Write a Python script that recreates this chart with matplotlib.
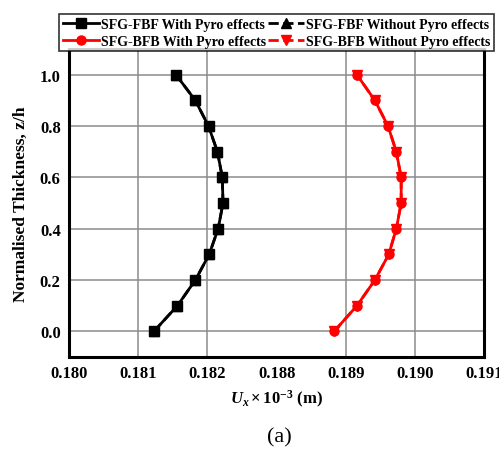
import numpy as np
import matplotlib
matplotlib.use('agg')
import matplotlib.pyplot as plt
from matplotlib.ticker import FixedLocator

z = [0.0, 0.1, 0.2, 0.3, 0.4, 0.5, 0.6, 0.7, 0.8, 0.9, 1.0]
fbf_with = [0.18123, 0.18157, 0.18183, 0.18203, 0.18216, 0.18223, 0.18222, 0.18215, 0.18202, 0.18183, 0.18155]
fbf_without = [0.18123, 0.18157, 0.18183, 0.18203, 0.18216, 0.18223, 0.18222, 0.18215, 0.18202, 0.18183, 0.18155]
bfb_with = [0.18883, 0.18916, 0.18942, 0.18962, 0.18973, 0.18980, 0.18980, 0.18973, 0.18961, 0.18942, 0.18916]
bfb_without = [0.18883, 0.18916, 0.18942, 0.18962, 0.18973, 0.18980, 0.18980, 0.18973, 0.18961, 0.18942, 0.18916]
xticks = [0.180, 0.181, 0.182, 0.188, 0.189, 0.190, 0.191]
yticks = [0.0, 0.2, 0.4, 0.6, 0.8, 1.0]


# broken x axis: gap 0.1825 -> 0.1875 squeezed to almost nothing
def fwd(x):
    x = np.asarray(x, dtype=float)
    return np.where(x <= 0.1825, (x - 0.180) * 1000,
                    np.where(x >= 0.1875, (x - 0.185) * 1000 + 0.01,
                             2.5 + (x - 0.1825) / 0.005 * 0.01))


def inv(u):
    u = np.asarray(u, dtype=float)
    return np.where(u <= 2.5, 0.180 + u / 1000,
                    np.where(u >= 2.51, 0.185 + (u - 0.01) / 1000,
                             0.1825 + (u - 2.5) / 0.01 * 0.005))


plt.rcParams['font.family'] = ['Liberation Serif', 'DejaVu Serif']
plt.rcParams['mathtext.fontset'] = 'custom'
plt.rcParams['mathtext.it'] = 'Liberation Serif:italic:bold'
plt.rcParams['mathtext.rm'] = 'Liberation Serif:bold'

fig = plt.figure(figsize=(4.99, 4.52), dpi=100)
ax = fig.add_axes([0.1383, 0.208, 0.8317, 0.681])
ax.set_xscale('function', functions=(fwd, inv))

ax.plot(fbf_without, z, '--', color='black', marker='^', ms=7, lw=2, label='SFG-FBF Without Pyro effects')
ax.plot(fbf_with, z, '-', color='black', marker='s', ms=6.5, lw=2, label='SFG-FBF With Pyro effects')
ax.plot(bfb_without, z, '--', color='red', marker='v', ms=7, lw=2, label='SFG-BFB Without Pyro effects')
ax.plot(bfb_with, z, '-', color='red', marker='o', ms=6.5, lw=2, label='SFG-BFB With Pyro effects')

ax.set_xlim(0.180, 0.191)
ax.set_ylim(-0.1, 1.1)
ax.xaxis.set_major_locator(FixedLocator(xticks))
ax.set_xticklabels(['%.3f' % t for t in xticks])
ax.set_yticks(yticks)
ax.set_yticklabels(['%.1f' % t for t in yticks])
for lab in ax.get_xticklabels() + ax.get_yticklabels():
    lab.set_fontweight('bold')
    lab.set_fontsize(12)

# grid lines (no line at the break)
for t in [0.181, 0.182, 0.189, 0.190]:
    ax.axvline(t, color='#8c8c8c', lw=1.1, zorder=0)
for t in yticks:
    ax.axhline(t, color='#8c8c8c', lw=1.1, zorder=0)

ax.tick_params(direction='in', length=0, pad=6)
for s in ax.spines.values():
    s.set_linewidth(2.2)

ax.set_ylabel('Normalised Thickness, z/h', fontsize=12.5, fontweight='bold', labelpad=8)
ax.set_xlabel(r'$U_x\times10^{-3}$ (m)', fontsize=12, fontweight='bold', labelpad=5)

h, l = ax.get_legend_handles_labels()
order = [1, 3, 0, 2]
leg = ax.legend([h[i] for i in order], [l[i] for i in order], ncol=2, loc='lower center',
                bbox_to_anchor=(0.5, 0.993), frameon=True, fancybox=False, edgecolor='black',
                borderpad=0.25, labelspacing=0.3, columnspacing=0.1, handlelength=2.6,
                handletextpad=0.15, borderaxespad=0.0, prop={'weight': 'bold', 'size': 10})
leg.get_frame().set_linewidth(1.2)

fig.text(0.56, 0.031, '(a)', ha='center', va='center', fontsize=16)

fig.savefig('out.png', dpi=100)
